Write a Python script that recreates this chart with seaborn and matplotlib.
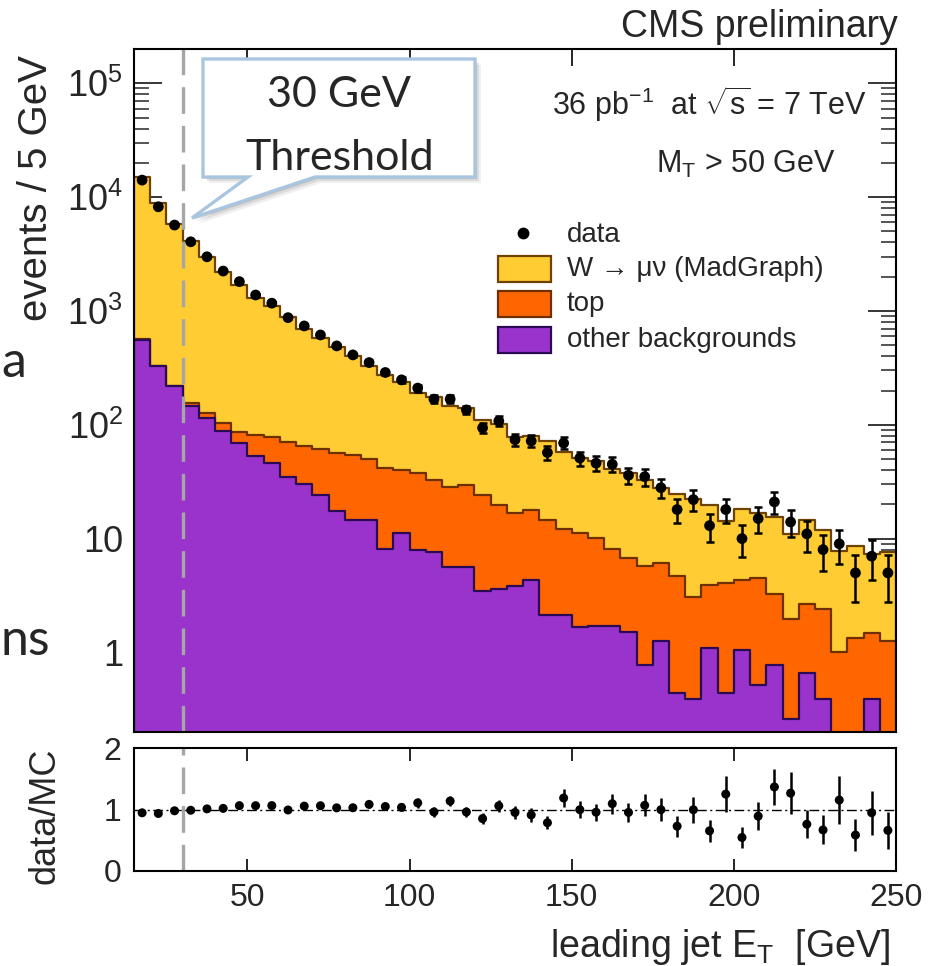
import numpy as np
import pandas as pd
import matplotlib
matplotlib.use("Agg")
import matplotlib.pyplot as plt
import seaborn as sns
from matplotlib.patches import Polygon, Rectangle
from matplotlib.lines import Line2D
from matplotlib.ticker import FixedLocator, LogLocator, NullFormatter, FixedFormatter

# ---------------------------------------------------------------------------
# Leading-jet ET spectrum, W -> mu nu selection (5 GeV bins, 15-250 GeV)
# ---------------------------------------------------------------------------
et_low, et_high, bin_width = 15, 250, 5
jet_threshold = 30

data_counts = [14100, 8220, 5680, 4050, 2990, 2240, 1810, 1380, 1170, 873,
               738, 615, 493, 411, 352, 288, 248, 210, 168, 168,
               135, 94, 108, 74, 72, 57, 69, 51, 46, 45,
               36, 35, 28, 18, 22, 13, 18, 10, 15, 21,
               14, 11, 8, 9, 5, 7, 5]
w_counts = [14340, 8460, 5580, 3945, 2834, 2097, 1618, 1218, 1022, 809,
            634, 518, 423, 345, 275, 233, 200, 152, 142, 119,
            111, 86, 82, 61, 61, 58, 46, 40, 38, 33,
            31, 27, 22, 20, 19, 16, 10.3, 14, 12.3, 12.1,
            9.1, 11.8, 9.6, 6.8, 7.2, 5.9, 6.3]
top_counts = [5, 5, 4, 10, 12, 15.5, 16.7, 28.8, 32, 36.3,
              35.2, 37.3, 39.4, 39.9, 35.3, 33.6, 28.5, 29.7, 25.3, 23,
              24, 20.9, 16.3, 13, 13.7, 12.5, 10, 9.5, 8.4, 6.4,
              5.3, 5.0, 4.85, 4.26, 2.7, 2.8, 3.66, 3.3, 4.0, 2.5,
              1.7, 2.0, 2.0, 1.0, 1.35, 1.1, 1.27]
other_counts = [557, 325, 217, 145, 114, 87.5, 69, 52.7, 46, 34.7,
                30.3, 24.3, 17.6, 14.7, 14.7, 8.1, 11.2, 8.0, 7.7, 5.65,
                5.65, 3.45, 3.6, 3.8, 4.3, 2.15, 2.15, 1.68, 1.72, 1.72,
                1.5, 0.77, 1.25, 0.44, 0.39, 1.1, 0.44, 1.05, 0.52, 0.77,
                0.26, 0.66, 0.39, 0, 0, 0.39, 0]

y_tick_values = [1, 10, 100, 1000, 10000, 100000]
y_tick_labels = ["1", "10", "$10^{2}$", "$10^{3}$", "$10^{4}$", "$10^{5}$"]
x_tick_values = [50, 100, 150, 200, 250]
ratio_tick_values = [0, 1, 2]

# colours
c_w, c_top, c_other = "#FFCC33", "#FF6600", "#9933CC"
c_w_edge, c_top_edge, c_other_edge = "#6E4200", "#6E3000", "#2A0A55"

# ---------------------------------------------------------------------------
edges = [float(e) for e in np.arange(et_low, et_high + bin_width, bin_width)]
df = pd.DataFrame({
    "et": [e + bin_width / 2 for e in edges[:-1]],
    "data": data_counts,
    "w": w_counts,
    "top": top_counts,
    "other": other_counts,
})
df["stack_other"] = df["other"]
df["stack_top"] = df["other"] + df["top"]
df["stack_all"] = df["stack_top"] + df["w"]
df["data_err"] = np.sqrt(df["data"])
df["ratio"] = df["data"] / df["stack_all"]
df["ratio_err"] = df["data_err"] / df["stack_all"]

sns.set_style("ticks")
plt.rcParams["font.family"] = ["Liberation Sans", "DejaVu Sans"]
plt.rcParams["mathtext.fontset"] = "custom"
plt.rcParams["mathtext.rm"] = "Liberation Sans"
plt.rcParams["mathtext.it"] = "Liberation Sans:italic"
plt.rcParams["mathtext.default"] = "regular"

W, H = 944, 966
fig = plt.figure(figsize=(W / 100, H / 100), dpi=100)


def fx(x):
    return x / W


def fy(y):
    return 1 - y / H


ax = fig.add_axes([fx(134), fy(732), (896 - 134) / W, (732 - 49) / H])
axr = fig.add_axes([fx(134), fy(871), (896 - 134) / W, (871 - 748) / H], sharex=ax)

# stacked MC: draw cumulative layers back to front
for col, fc, ec in [("stack_all", c_w, c_w_edge),
                    ("stack_top", c_top, c_top_edge),
                    ("stack_other", c_other, c_other_edge)]:
    sns.histplot(data=df, x="et", weights=col, bins=edges, element="step",
                 fill=True, color=fc, edgecolor=ec, linewidth=1.6, alpha=1,
                 ax=ax, zorder=2)

# data points with Poisson errors
ax.errorbar(df["et"], df["data"], yerr=df["data_err"], fmt="none",
            ecolor="black", elinewidth=1.8, capsize=2.6, capthick=1.8, zorder=5)
sns.scatterplot(data=df, x="et", y="data", color="black", s=60,
                edgecolor="none", ax=ax, zorder=6, legend=False)

ax.axvline(jet_threshold, color="#A6A6A6", lw=2.4, linestyle=(0, (8, 3.6)), zorder=4)

ax.set_yscale("log")
ax.set_xlim(et_low, et_high)
ax.set_ylim(0.2, 2e5)
ax.set_xlabel("")
ax.set_ylabel("")
ax.yaxis.set_major_locator(FixedLocator(y_tick_values))
ax.yaxis.set_major_formatter(FixedFormatter(y_tick_labels))
ax.yaxis.set_minor_locator(LogLocator(base=10, subs=np.arange(2, 10), numticks=20))
ax.yaxis.set_minor_formatter(NullFormatter())
ax.xaxis.set_major_locator(FixedLocator(x_tick_values))
ax.tick_params(axis="y", which="major", direction="in", length=20, width=1.3,
               left=True, right=True, labelsize=26, pad=8)
ax.tick_params(axis="y", which="minor", direction="in", length=11, width=1.1,
               left=True, right=True)
ax.tick_params(axis="x", which="major", direction="in", length=12, width=1.4,
               top=True, bottom=True, labelbottom=False)
ax.tick_params(axis="x", which="minor", length=0)
for s in ax.spines.values():
    s.set_linewidth(1.5)
    s.set_color("black")
    s.set_zorder(10)

# ratio panel
axr.axhline(1, color="black", lw=1.0, linestyle=(0, (7, 2.5, 1.5, 2.5)), zorder=2)
axr.axvline(jet_threshold, color="#A6A6A6", lw=2.4, linestyle=(0, (8, 3.6)), zorder=1)
axr.errorbar(df["et"], df["ratio"], yerr=df["ratio_err"], fmt="none",
             ecolor="black", elinewidth=1.8, capsize=0, zorder=5)
sns.scatterplot(data=df, x="et", y="ratio", color="black", s=42,
                edgecolor="none", ax=axr, zorder=6, legend=False)
axr.set_ylim(0, 2)
axr.set_xlim(et_low, et_high)
axr.set_xlabel("")
axr.set_ylabel("")
axr.yaxis.set_major_locator(FixedLocator(ratio_tick_values))
axr.xaxis.set_major_locator(FixedLocator(x_tick_values))
axr.tick_params(axis="y", length=0, labelsize=23, pad=9)
axr.tick_params(axis="x", which="major", direction="in", length=9, width=1.4,
                top=True, bottom=True, labelsize=23, pad=9)
axr.tick_params(axis="x", which="minor", length=0)
for s in axr.spines.values():
    s.set_linewidth(1.5)
    s.set_color("black")

# axis titles and annotations
fig.text(fx(36), fy(188), "events / 5 GeV", rotation=90, ha="center", va="center",
         fontsize=29)
fig.text(fx(45), fy(816), "data/MC", rotation=90, ha="center", va="center", fontsize=26)
fig.text(fx(890), fy(957), r"leading jet E$_\mathrm{T}$  [GeV]", ha="right",
         va="baseline", fontsize=27)
fig.text(fx(898), fy(37), "CMS preliminary", ha="right", va="baseline", fontsize=27)
fig.text(fx(866), fy(115), r"36 pb$^{-1}$  at $\sqrt{s}$ = 7 TeV", ha="right",
         va="baseline", fontsize=22)
fig.text(fx(836), fy(173), r"M$_\mathrm{T}$ > 50 GeV", ha="right", va="baseline",
         fontsize=22)

# legend
fig.add_artist(Line2D([fx(523)], [fy(233)], marker="o", color="black", markersize=7.5,
                      linestyle="none", transform=fig.transFigure))
legend_rows = [
    ("data", None, None, 242),
    ("W \u2192 \u03bc\u03bd (MadGraph)", c_w, c_w_edge, 276),
    ("top", c_top, c_top_edge, 311),
    ("other backgrounds", c_other, c_other_edge, 347),
]
for label, fc, ec, base in legend_rows:
    if fc is not None:
        fig.add_artist(Rectangle((fx(498), fy(base + 6)), (551 - 498) / W, 26 / H,
                                 transform=fig.transFigure, facecolor=fc,
                                 edgecolor=ec, lw=1.6))
    fig.text(fx(567), fy(base), label, ha="left", va="baseline", fontsize=20)

# callout for the jet threshold
callout_px = [(203, 59), (475, 59), (475, 177), (315, 177), (192, 218),
              (248, 177), (203, 177)]
for off, a in [(6, 0.06), (4, 0.09), (2, 0.12)]:
    fig.add_artist(Polygon([(fx(x + off), fy(y + off)) for x, y in callout_px],
                           closed=True, transform=fig.transFigure,
                           facecolor="black", edgecolor="none", alpha=a))
fig.add_artist(Polygon([(fx(x), fy(y)) for x, y in callout_px], closed=True,
                       transform=fig.transFigure, facecolor="white",
                       edgecolor="#A9C5DF", lw=2.4, joinstyle="miter"))
fig.text(fx(339), fy(107), "30 GeV", ha="center", va="baseline", fontsize=31,
         family=["Lato", "DejaVu Sans"])
fig.text(fx(340), fy(170), "Threshold", ha="center", va="baseline", fontsize=31,
         family=["Lato", "DejaVu Sans"])

# slide text at the left margin
fig.text(fx(1), fy(377), "a", ha="left", va="baseline", fontsize=36,
         family=["Lato", "DejaVu Sans"])
fig.text(fx(1), fy(655), "ns", ha="left", va="baseline", fontsize=36,
         family=["Lato", "DejaVu Sans"])

fig.savefig("out.png", dpi=100)
